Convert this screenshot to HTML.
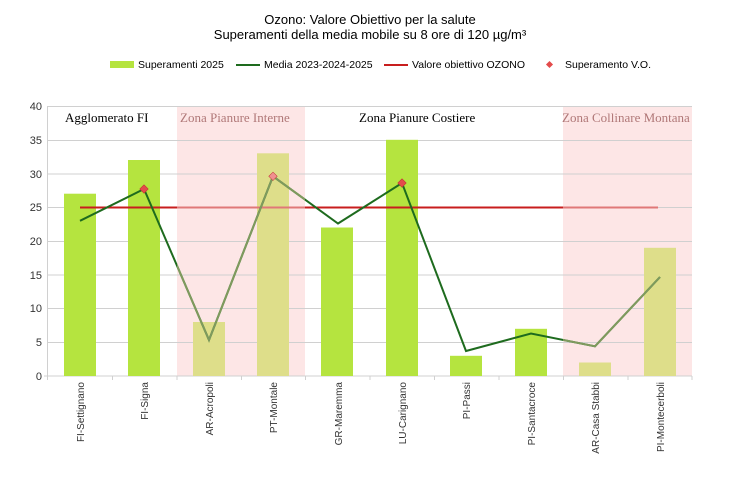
<!DOCTYPE html>
<html><head><meta charset="utf-8"><style>body{margin:0;background:#fff}svg{display:block}</style></head><body>
<svg width="739" height="484" xmlns="http://www.w3.org/2000/svg" font-family="Liberation Sans, sans-serif">
<defs>
<clipPath id="pk"><rect x="177" y="106" width="128" height="270"/><rect x="563" y="106" width="129" height="270"/></clipPath>
</defs>
<text x="370" y="24" font-size="13" text-anchor="middle">Ozono: Valore Obiettivo per la salute</text>
<text x="370" y="39" font-size="13" text-anchor="middle">Superamenti della media mobile su 8 ore di 120 µg/m³</text>
<g font-size="10.5">
<rect x="110" y="61" width="24" height="7" fill="#b5e43f"/><text x="138" y="68">Superamenti 2025</text>
<line x1="236" y1="65" x2="260" y2="65" stroke="#1e6b1e" stroke-width="2"/><text x="264" y="68">Media 2023-2024-2025</text>
<line x1="384" y1="65" x2="408" y2="65" stroke="#c81e1e" stroke-width="2"/><text x="412" y="68">Valore obiettivo OZONO</text>
<rect x="547" y="62" width="5" height="5" fill="#e34b4b" transform="rotate(45 549.5 64.5)"/><text x="565" y="68">Superamento V.O.</text>
</g>
<rect x="177" y="106" width="128" height="270" fill="#fde6e6"/>
<rect x="563" y="106" width="129" height="270" fill="#fde6e6"/>
<g stroke="#d0d0d0" stroke-width="1">
<line x1="48" y1="106.5" x2="692" y2="106.5"/><line x1="48" y1="140.5" x2="692" y2="140.5"/><line x1="48" y1="174" x2="692" y2="174"/><line x1="48" y1="207.5" x2="692" y2="207.5"/><line x1="48" y1="241.5" x2="692" y2="241.5"/><line x1="48" y1="275" x2="692" y2="275"/><line x1="48" y1="308.5" x2="692" y2="308.5"/><line x1="48" y1="342.5" x2="692" y2="342.5"/>
<line x1="47.5" y1="106" x2="47.5" y2="380"/><line x1="44" y1="376" x2="692" y2="376"/>
<line x1="112.5" y1="376" x2="112.5" y2="380"/><line x1="177" y1="376" x2="177" y2="380"/><line x1="241.5" y1="376" x2="241.5" y2="380"/><line x1="305.5" y1="376" x2="305.5" y2="380"/><line x1="370" y1="376" x2="370" y2="380"/><line x1="434.5" y1="376" x2="434.5" y2="380"/><line x1="499" y1="376" x2="499" y2="380"/><line x1="563.5" y1="376" x2="563.5" y2="380"/><line x1="628" y1="376" x2="628" y2="380"/><line x1="692" y1="376" x2="692" y2="380"/>
</g>
<g font-size="11" text-anchor="end" fill="#333">
<text x="42" y="110">40</text><text x="42" y="144">35</text><text x="42" y="178">30</text><text x="42" y="211">25</text><text x="42" y="245">20</text><text x="42" y="279">15</text><text x="42" y="312">10</text><text x="42" y="346">5</text><text x="42" y="380">0</text>
</g>
<g fill="#b5e43f">
<rect x="64" y="193.7" width="32" height="182.3"/>
<rect x="128" y="160" width="32" height="216"/>
<rect x="193" y="322" width="32" height="54" fill="#dede8a"/>
<rect x="257" y="153.3" width="32" height="222.7" fill="#dede8a"/>
<rect x="321" y="227.5" width="32" height="148.5"/>
<rect x="386" y="139.8" width="32" height="236.2"/>
<rect x="450" y="355.8" width="32" height="20.2"/>
<rect x="515" y="328.8" width="32" height="47.2"/>
<rect x="579" y="362.5" width="32" height="13.5" fill="#dede8a"/>
<rect x="644" y="247.8" width="32" height="128.2" fill="#dede8a"/>
</g>
<line x1="80" y1="207.5" x2="658" y2="207.5" stroke="#c81e1e" stroke-width="2"/>
<line x1="80" y1="207.5" x2="658" y2="207.5" stroke="#e07878" stroke-width="2" clip-path="url(#pk)"/>
<polyline fill="none" stroke="#1e6b1e" stroke-width="2" points="80,220.8 144,189 209,340 273,176.3 338,223.5 402,183 466,351 531,333.5 595,346.3 660,277"/>
<polyline fill="none" stroke="#7f9a5e" stroke-width="2" clip-path="url(#pk)" points="80,220.8 144,189 209,340 273,176.3 338,223.5 402,183 466,351 531,333.5 595,346.3 660,277"/>
<g fill="#e34b4b" stroke="#c03030" stroke-width="0.5">
<rect x="141" y="186" width="6" height="6" transform="rotate(45 144 189)"/>
<rect x="270" y="173.3" width="6" height="6" transform="rotate(45 273 176.3)" fill="#f09090"/>
<rect x="399" y="180" width="6" height="6" transform="rotate(45 402 183)"/>
</g>
<g font-family="Liberation Serif, serif" font-size="13">
<text x="65" y="122">Agglomerato FI</text>
<text x="180" y="122" fill="#b07878">Zona Pianure Interne</text>
<text x="359" y="122">Zona Pianure  Costiere</text>
<text x="562" y="122" fill="#b07878">Zona Collinare Montana</text>
</g>
<g font-size="10" text-anchor="end" fill="#333">
<text transform="translate(84,382) rotate(-90)">FI-Settignano</text>
<text transform="translate(148,382) rotate(-90)">FI-Signa</text>
<text transform="translate(213,382) rotate(-90)">AR-Acropoli</text>
<text transform="translate(277,382) rotate(-90)">PT-Montale</text>
<text transform="translate(342,382) rotate(-90)">GR-Maremma</text>
<text transform="translate(406,382) rotate(-90)">LU-Carignano</text>
<text transform="translate(470,382) rotate(-90)">PI-Passi</text>
<text transform="translate(535,382) rotate(-90)">PI-Santacroce</text>
<text transform="translate(599,382) rotate(-90)">AR-Casa Stabbi</text>
<text transform="translate(664,382) rotate(-90)">PI-Montecerboli</text>
</g>
</svg>
</body></html>
